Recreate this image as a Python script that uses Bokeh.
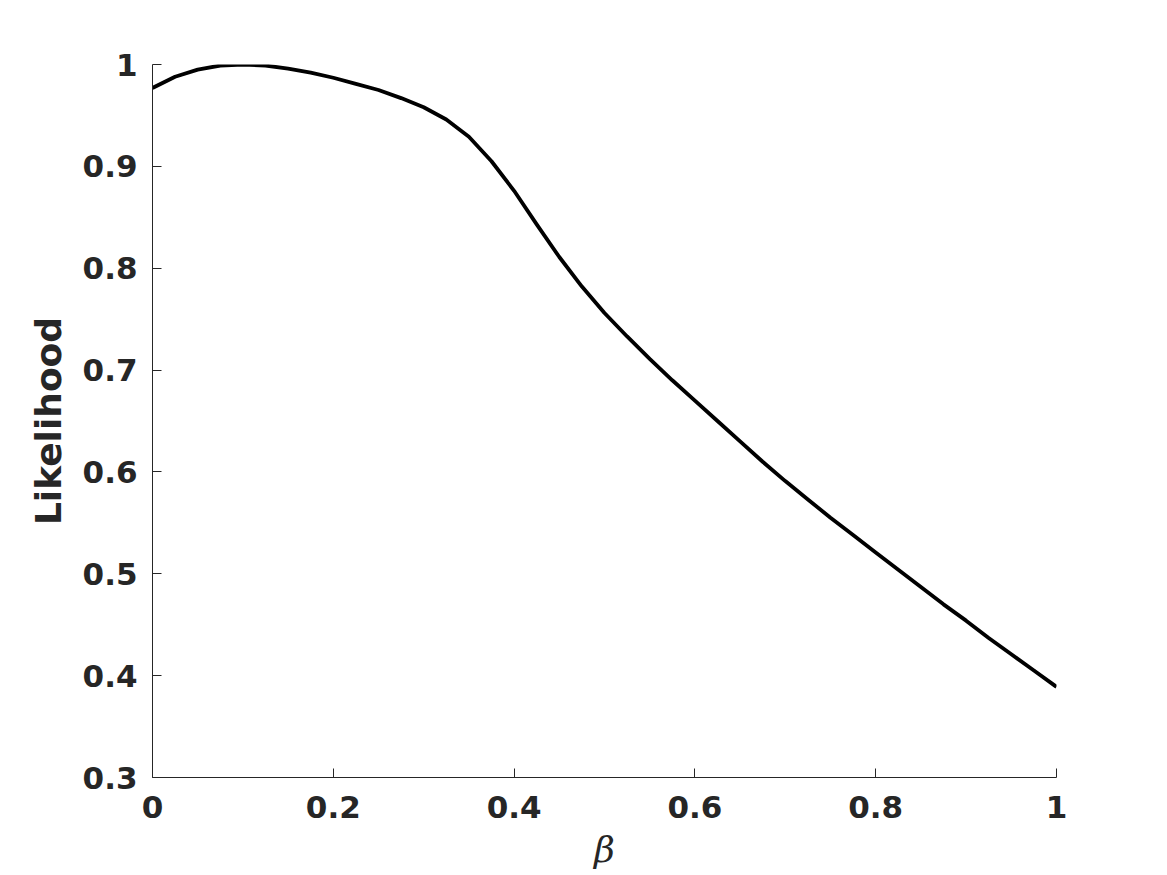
from bokeh.plotting import figure
from bokeh.embed import file_html
from bokeh.resources import INLINE
from bokeh.models import Range1d, FixedTicker

beta = [0.000, 0.025, 0.050, 0.075, 0.100, 0.125, 0.150, 0.175, 0.200, 0.225,
        0.250, 0.275, 0.300, 0.325, 0.350, 0.375, 0.400, 0.425, 0.450, 0.475,
        0.500, 0.525, 0.550, 0.575, 0.600, 0.625, 0.650, 0.675, 0.700, 0.725,
        0.750, 0.775, 0.800, 0.825, 0.850, 0.875, 0.900, 0.925, 0.950, 0.975,
        1.000]
likelihood = [0.977, 0.988, 0.995, 0.999, 1.000, 0.999, 0.996, 0.992, 0.987, 0.981,
              0.975, 0.967, 0.958, 0.946, 0.929, 0.905, 0.876, 0.843, 0.811, 0.782,
              0.756, 0.733, 0.711, 0.690, 0.670, 0.650, 0.630, 0.610, 0.591, 0.573,
              0.555, 0.538, 0.521, 0.504, 0.487, 0.470, 0.454, 0.437, 0.421, 0.405,
              0.389]
x_ticks = [0, 0.2, 0.4, 0.6, 0.8, 1]
y_ticks = [0.3, 0.4, 0.5, 0.6, 0.7, 0.8, 0.9, 1.0]
x_tick_labels = {0: "0", 0.2: "0.2", 0.4: "0.4", 0.6: "0.6", 0.8: "0.8", 1: "1"}
y_tick_labels = {0.3: "0.3", 0.4: "0.4", 0.5: "0.5", 0.6: "0.6", 0.7: "0.7",
                 0.8: "0.8", 0.9: "0.9", 1.0: "1"}

W, H = 1160, 872
p = figure(width=W, height=H, output_backend="svg", toolbar_location=None,
           x_range=Range1d(0, 1), y_range=Range1d(0.3, 1.0),
           min_border_left=152, min_border_right=104,
           min_border_top=64, min_border_bottom=90)
p.outline_line_color = None
p.grid.visible = False
p.background_fill_color = "white"
p.border_fill_color = "white"

p.line(beta, likelihood, line_color="black", line_width=3.8, line_join="round")

tc = "#262626"
for ax, ticks, labels in ((p.xaxis[0], x_ticks, x_tick_labels),
                          (p.yaxis[0], y_ticks, y_tick_labels)):
    ax.ticker = FixedTicker(ticks=ticks)
    ax.major_label_overrides = labels
    ax.minor_tick_line_color = None
    ax.major_tick_in = 9
    ax.major_tick_out = 0
    ax.axis_line_color = tc
    ax.major_tick_line_color = tc
    ax.axis_line_width = 1
    ax.major_label_text_font = "DejaVu Sans"
    ax.major_label_text_font_style = "bold"
    ax.major_label_text_font_size = "31px"
    ax.major_label_text_color = tc
    ax.axis_label_text_color = tc

p.xaxis.major_label_standoff = 18
p.yaxis.major_label_standoff = 15

p.yaxis.axis_label = "Likelihood"
p.yaxis.axis_label_text_font = "DejaVu Sans"
p.yaxis.axis_label_text_font_style = "bold"
p.yaxis.axis_label_text_font_size = "36px"
p.yaxis.axis_label_standoff = 11

p.xaxis.axis_label = "β"
p.xaxis.axis_label_text_font = "DejaVu Serif"
p.xaxis.axis_label_text_font_style = "italic"
p.xaxis.axis_label_text_font_size = "36px"
p.xaxis.axis_label_standoff = 8

open("out.html", "w").write(file_html(p, INLINE))
